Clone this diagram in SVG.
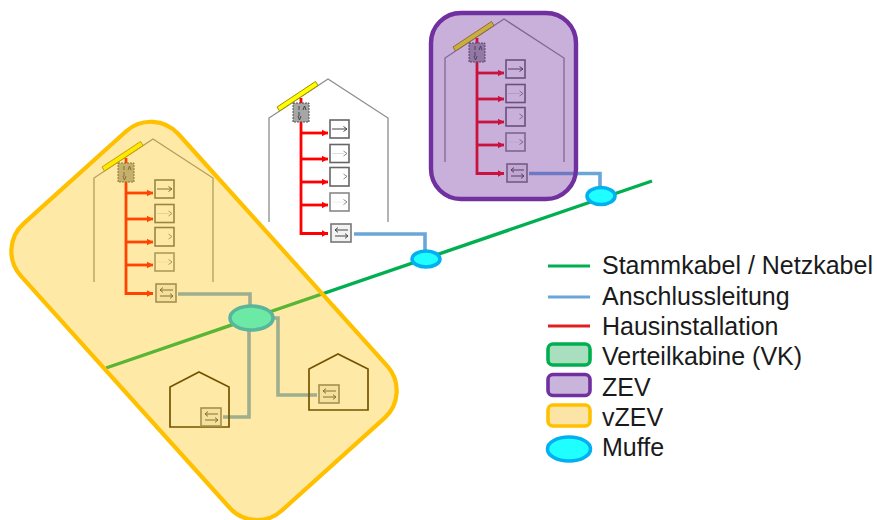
<svg xmlns="http://www.w3.org/2000/svg" xmlns:xlink="http://www.w3.org/1999/xlink" width="877" height="520" viewBox="0 0 877 520">
<style>
text{font-family:"Liberation Sans",Arial,sans-serif;font-size:25px;fill:#1a1a1a}
.wall{fill:none;stroke:#8c8c8c;stroke-width:1.3}
.small{fill:none;stroke:#2a1a00;stroke-width:1.7}
.red{fill:none;stroke:#ff0000;stroke-width:2.8}
.box{fill:#fff;stroke:#666;stroke-width:1.6}
.mbox{fill:#f2f2f2;stroke:#777;stroke-width:1.6}
.arr{fill:none;stroke:#444;stroke-width:1}
.stamm{fill:none;stroke:#00b050;stroke-width:3.4}
.anschl{fill:none;stroke:#6ca6d9;stroke-width:3.6}
.muffe{fill:#1fffff;stroke:#00b0f0;stroke-width:3.6}
.vzev{fill:#ffc000;fill-opacity:.35;stroke:none}
.vzevl{fill:none;stroke:#ffc000;stroke-width:4.2}
.zev{fill:#7030a0;fill-opacity:.38;stroke:none}
.zevl{fill:none;stroke:#7030a0;stroke-width:4.4}
</style>
<defs>
<marker id="rh" markerUnits="userSpaceOnUse" markerWidth="7" markerHeight="8" refX="6" refY="4" orient="auto"><path d="M0 .8L6 4L0 7.200z" fill="#ff0000"/></marker>
<g id="meter">
<rect class="mbox" x="0" y="0" width="20" height="18"/>
<path class="arr" d="M17 6H4M7 3.600L4 6L7 8.400M4 12H17M14 9.600L17 12L14 14.400"/>
</g>
<g id="house">
<path class="wall" d="M269 222V118L328 79L388 118V222"/>
<path d="M277 107L315.500 81.500L318 85.500L279.500 111z" fill="#ffff00" stroke="#a09000" stroke-width="1"/>
<path class="red" d="M301 98V233.500H328" marker-end="url(#rh)"/>
<path class="red" d="M301 133H328" marker-end="url(#rh)"/>
<path class="red" d="M301 159H328" marker-end="url(#rh)"/>
<path class="red" d="M301 182H328" marker-end="url(#rh)"/>
<path class="red" d="M301 205H328" marker-end="url(#rh)"/>
<rect x="293" y="103" width="16" height="19" fill="#a6a6a6" stroke="#444" stroke-width=".9" stroke-dasharray="2 1"/>
<path class="arr" d="M299 106V110M299 112V116M303 110L304.500 106L306 110M298 116L299.500 120L301 116"/>
<rect class="box" x="330" y="120" width="19" height="18"/>
<path class="arr" d="M332 129H347M343.500 126.500L347 129L343.500 131.500"/>
<rect class="box" x="330" y="144.500" width="19" height="18"/>
<path class="arr" style="stroke:#ddd" d="M332 153.500H344"/><path class="arr" style="stroke:#888" d="M343.500 151L347 153.500L343.500 156"/>
<rect class="box" x="330" y="167.500" width="19" height="18.500"/>
<path class="arr" style="stroke:#888" d="M343.500 174L347 176.500L343.500 179"/>
<rect class="box" style="stroke:#888" x="330" y="193" width="19" height="18"/>
<path class="arr" style="stroke:#eee" d="M332 202H344"/><path class="arr" style="stroke:#888" d="M343.500 199.500L347 202L343.500 204.500"/>
<use xlink:href="#meter" href="#meter" x="331" y="224"/>
</g>
</defs>

<g id="connectors">
<path id="stammkabel" class="stamm" d="M106 368L652 181"/>
<path class="anschl" d="M354 234H425V252"/>
<path class="anschl" d="M529 173.500H600V190"/>
<path class="anschl" d="M178 294H250V306"/>
<path class="anschl" d="M249 325V417H223"/>
<path class="anschl" d="M272 318H278V395H317"/>
</g>

<g id="haus-vzev"><use xlink:href="#house" href="#house" transform="translate(-175 60)"/></g>
<g id="haus-mitte"><use xlink:href="#house" href="#house"/></g>
<g id="haus-zev"><use xlink:href="#house" href="#house" transform="translate(176 -60)"/></g>
<g id="haus-klein-1">
<path class="small" d="M170 427V387L199 372L229 387V427z"/>
<use xlink:href="#meter" href="#meter" x="201" y="408"/>
</g>
<g id="haus-klein-2">
<path class="small" d="M309 410V369L338 354L368 369V410z"/>
<use xlink:href="#meter" href="#meter" x="319" y="385"/>
</g>
<g id="muffe-1"><ellipse class="muffe" cx="426" cy="259" rx="14" ry="8"/></g>
<g id="muffe-2"><ellipse class="muffe" cx="601" cy="196" rx="14" ry="8.500"/></g>
<g id="verteilkabine"><ellipse class="muffe" cx="251.500" cy="318" rx="21.500" ry="12"/></g>

<g id="vzev-bereich">
<rect class="vzev" x="11.300" y="215" width="386" height="212" rx="37" transform="rotate(48 204.300 320.600)"/>
<rect class="vzevl" x="11.300" y="215" width="386" height="212" rx="37" transform="rotate(48 204.300 320.600)"/>
</g>
<g id="zev-bereich">
<rect class="zev" x="431" y="13" width="145" height="186" rx="30"/>
<rect class="zevl" x="431" y="13" width="145" height="186" rx="30"/>
</g>

<g id="legende">
<path d="M548 266H590" fill="none" stroke="#00b050" stroke-width="2.800"/>
<path d="M548 297H590" fill="none" stroke="#6ca6d9" stroke-width="2.800"/>
<path d="M548 326H590" fill="none" stroke="#e02020" stroke-width="2.800"/>
<rect x="548" y="344" width="42" height="21" rx="5" fill="#a9dfbf" stroke="#00b050" stroke-width="3.600"/>
<rect x="548" y="374.500" width="42" height="21" rx="5" fill="#c9b4dc" stroke="#7030a0" stroke-width="3.600"/>
<rect x="548" y="405" width="42" height="21" rx="5" fill="#fce4a6" stroke="#ffc000" stroke-width="3.600"/>
<ellipse class="muffe" cx="569" cy="449" rx="21.500" ry="12"/>
<text x="602" y="274">Stammkabel / Netzkabel</text>
<text x="602" y="305">Anschlussleitung</text>
<text x="602" y="335">Hausinstallation</text>
<text x="602" y="365">Verteilkabine (VK)</text>
<text x="602" y="396">ZEV</text>
<text x="602" y="426">vZEV</text>
<text x="602" y="456">Muffe</text>
</g>
</svg>
